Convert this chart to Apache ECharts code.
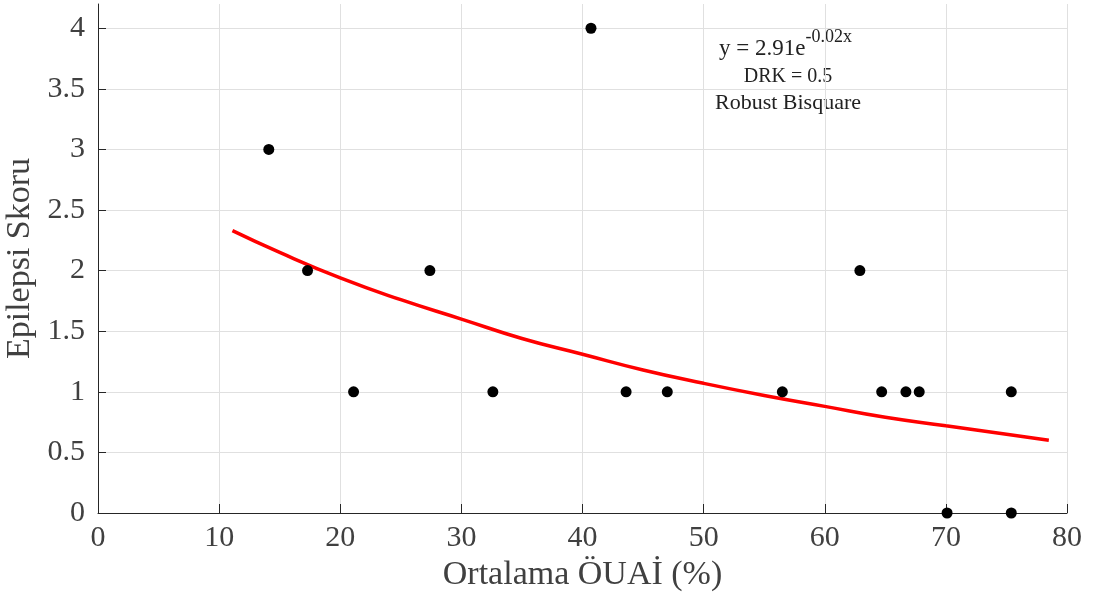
<!DOCTYPE html>
<html>
<head>
<meta charset="utf-8">
<script src="https://cdn.jsdelivr.net/npm/echarts@6/dist/echarts.min.js"></script>
<style>
  html, body { margin: 0; padding: 0; background: #fff; }
  #chart { width: 1109px; height: 603px; }
</style>
</head>
<body>
<div id="chart"></div>
<script>
// observed points (Ortalama OUAI %, Epilepsi Skoru)
var pointX = [14.1, 17.3, 21.1, 27.4, 32.6, 40.7, 43.6, 47.0, 56.5, 62.9, 64.7, 66.7, 67.8, 70.1, 75.4, 75.4];
var pointY = [3, 2, 1, 2, 1, 4, 1, 1, 1, 2, 1, 1, 1, 0, 0, 1];

// fitted curve
var fitX = [11.1, 15, 20, 25, 30, 35, 40, 45, 50, 55, 60, 65, 70, 75, 78.5];
var fitY = [2.33, 2.15, 1.94, 1.76, 1.60, 1.44, 1.31, 1.18, 1.07, 0.97, 0.88, 0.79, 0.72, 0.65, 0.60];

var xTitle = 'Ortalama ÖUAİ (%)';
var yTitle = 'Epilepsi Skoru';
var noteLines = ['DRK = 0.5', 'Robust Bisquare'];

var font = '"Liberation Serif", "DejaVu Serif", serif';
var textColor = '#404040';
var axisColor = '#262626';
var gridColor = '#e0e0e0';

var scatterData = pointX.map(function (x, i) { return [x, pointY[i]]; });
var fitData = fitX.map(function (x, i) { return [x, fitY[i]]; });

// last y split line sits on the top edge (4.2) - hide it
var ySplitColors = [];
for (var i = 0; i < 9; i++) ySplitColors.push(gridColor);
ySplitColors.push('rgba(0,0,0,0)');

var chart = echarts.init(document.getElementById('chart'));
chart.setOption({
  backgroundColor: '#fff',
  animation: false,
  grid: { left: 98, right: 42, top: 4, bottom: 90, outerBoundsMode: 'none', containLabel: false },
  xAxis: {
    type: 'value',
    min: 0,
    max: 80,
    interval: 10,
    name: xTitle,
    nameLocation: 'middle',
    nameGap: 44,
    nameTextStyle: { fontFamily: font, fontSize: 34, color: textColor },
    axisLine: { onZero: false, lineStyle: { color: axisColor, width: 1 } },
    axisTick: { inside: true, length: 9, lineStyle: { color: axisColor } },
    axisLabel: { fontFamily: font, fontSize: 30, color: textColor, margin: 10 },
    splitLine: { show: true, lineStyle: { color: gridColor, width: 1 } }
  },
  yAxis: {
    type: 'value',
    min: 0,
    max: 4.2,
    interval: 0.5,
    name: yTitle,
    nameLocation: 'middle',
    nameGap: 52,
    nameTextStyle: { fontFamily: font, fontSize: 34, color: textColor },
    axisLine: { show: true, lineStyle: { color: axisColor, width: 1 } },
    axisTick: { show: true, inside: true, length: 8, lineStyle: { color: axisColor } },
    axisLabel: { fontFamily: font, fontSize: 30, color: textColor, margin: 13, showMaxLabel: false },
    splitLine: { show: true, lineStyle: { color: ySplitColors, width: 1 } }
  },
  graphic: [
    {
      type: 'text',
      left: 719,
      top: 28,
      style: {
        text: '{b|y = 2.91e}{s|-0.02x}',
        rich: {
          b: { fontFamily: font, fontSize: 23, fill: '#222', lineHeight: 32, verticalAlign: 'bottom' },
          s: { fontFamily: font, fontSize: 18, fill: '#222', lineHeight: 32, verticalAlign: 'top' }
        }
      }
    },
    {
      type: 'text',
      x: 788,
      y: 77,
      style: {
        text: noteLines[0],
        fontFamily: font, fontSize: 20, fill: '#222',
        align: 'center', verticalAlign: 'middle'
      }
    },
    {
      type: 'text',
      x: 788,
      y: 103,
      style: {
        text: noteLines[1],
        fontFamily: font, fontSize: 22, fill: '#222',
        align: 'center', verticalAlign: 'middle'
      }
    }
  ],
  series: [
    {
      type: 'line',
      data: fitData,
      smooth: true,
      showSymbol: false,
      lineStyle: { color: '#ff0000', width: 3.5 },
      z: 2
    },
    {
      type: 'scatter',
      data: scatterData,
      symbol: 'circle',
      symbolSize: 11,
      itemStyle: { color: '#000', opacity: 1 },
      z: 3
    }
  ]
});
</script>
</body>
</html>
